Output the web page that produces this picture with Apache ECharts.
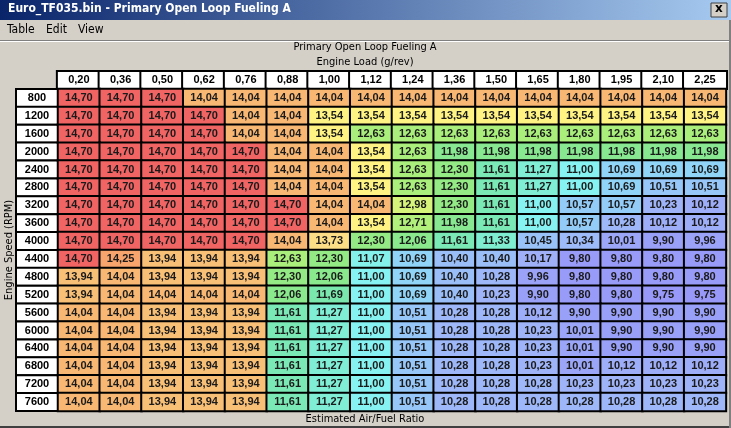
<!DOCTYPE html>
<html>
<head>
<meta charset="utf-8">
<script src="https://cdn.jsdelivr.net/npm/echarts@6/dist/echarts.min.js"></script>
<style>
html,body{margin:0;padding:0;background:#d4d0c8;}
#main{width:731px;height:428px;}
</style>
</head>
<body>
<div id="main"></div>
<script>
// engine load columns (g/rev) and engine speed rows (RPM)
var loadCols = ['0,20','0,36','0,50','0,62','0,76','0,88','1,00','1,12','1,24','1,36','1,50','1,65','1,80','1,95','2,10','2,25'];
var rpmRows = ['800','1200','1600','2000','2400','2800','3200','3600','4000','4400','4800','5200','5600','6000','6400','6800','7200','7600'];

// estimated air/fuel ratio, one row per rpm
var afr = [
	[14.70,14.70,14.70,14.04,14.04,14.04,14.04,14.04,14.04,14.04,14.04,14.04,14.04,14.04,14.04,14.04],
	[14.70,14.70,14.70,14.70,14.04,14.04,13.54,13.54,13.54,13.54,13.54,13.54,13.54,13.54,13.54,13.54],
	[14.70,14.70,14.70,14.70,14.04,14.04,13.54,12.63,12.63,12.63,12.63,12.63,12.63,12.63,12.63,12.63],
	[14.70,14.70,14.70,14.70,14.70,14.04,14.04,13.54,12.63,11.98,11.98,11.98,11.98,11.98,11.98,11.98],
	[14.70,14.70,14.70,14.70,14.70,14.04,14.04,13.54,12.63,12.30,11.61,11.27,11.00,10.69,10.69,10.69],
	[14.70,14.70,14.70,14.70,14.70,14.04,14.04,13.54,12.63,12.30,11.61,11.27,11.00,10.69,10.51,10.51],
	[14.70,14.70,14.70,14.70,14.70,14.70,14.04,14.04,12.98,12.30,11.61,11.00,10.57,10.57,10.23,10.12],
	[14.70,14.70,14.70,14.70,14.70,14.70,14.04,13.54,12.71,11.98,11.61,11.00,10.57,10.28,10.12,10.12],
	[14.70,14.70,14.70,14.70,14.70,14.04,13.73,12.30,12.06,11.61,11.33,10.45,10.34,10.01,9.90,9.96],
	[14.70,14.25,13.94,13.94,13.94,12.63,12.30,11.07,10.69,10.40,10.40,10.17,9.80,9.80,9.80,9.80],
	[13.94,14.04,13.94,13.94,13.94,12.30,12.06,11.00,10.69,10.40,10.28,9.96,9.80,9.80,9.80,9.80],
	[13.94,14.04,14.04,14.04,14.04,12.06,11.69,11.00,10.69,10.40,10.23,9.90,9.80,9.80,9.75,9.75],
	[14.04,14.04,13.94,13.94,13.94,11.61,11.27,11.00,10.51,10.28,10.28,10.12,9.90,9.90,9.90,9.90],
	[14.04,14.04,13.94,13.94,13.94,11.61,11.27,11.00,10.51,10.28,10.28,10.23,10.01,9.90,9.90,9.90],
	[14.04,14.04,13.94,13.94,13.94,11.61,11.27,11.00,10.51,10.28,10.28,10.23,10.01,9.90,9.90,9.90],
	[14.04,14.04,13.94,13.94,13.94,11.61,11.27,11.00,10.51,10.28,10.28,10.23,10.01,10.12,10.12,10.12],
	[14.04,14.04,13.94,13.94,13.94,11.61,11.27,11.00,10.51,10.28,10.28,10.28,10.23,10.23,10.23,10.23],
	[14.04,14.04,13.94,13.94,13.94,11.61,11.27,11.00,10.51,10.28,10.28,10.28,10.28,10.28,10.28,10.28]
];

// colour ramp from 9.70 to 14.70, evenly spaced every 0.25
var ramp = ['#9696f8','#9aa2f8','#a0b2f8','#98c2f8','#90d6f8','#88f4f8','#80f0dc','#7ceac4','#7ae8ac','#86e892','#8ee886',
	'#9cec80','#b0f07a','#d4f47a','#eef87c','#fffc80','#fce288','#f8be76','#f8ac6e','#f48868','#f06464'];

var cells = [];
for(var r=0;r<afr.length;r++){
	for(var c=0;c<afr[r].length;c++){
		cells.push([c,r,afr[r][c]]);
	}
}

var font = 'Liberation Sans';
var uiFont = '"DejaVu Sans Condensed", "Liberation Sans"';
var myChart = echarts.init(document.getElementById('main'));
var option = {
	backgroundColor:'#d4d0c8',
	animation:false,
	grid:{left:58,right:4,top:89,bottom:17},
	xAxis:{
		type:'category',position:'top',data:loadCols,
		axisLine:{show:false},axisTick:{show:false},splitLine:{show:false},
		axisLabel:{
			interval:0,margin:1,color:'#000',fontFamily:font,fontSize:11,fontWeight:'bold',
			backgroundColor:'#fff',borderColor:'#000',borderWidth:2,
			width:42,height:16,lineHeight:16,align:'center',padding:0
		}
	},
	yAxis:{
		type:'category',inverse:true,data:rpmRows,
		axisLine:{show:false},axisTick:{show:false},splitLine:{show:false},
		axisLabel:{
			interval:0,margin:1,align:'right',
			backgroundColor:'#fff',borderColor:'#000',borderWidth:2,padding:0,
			formatter:function(v){return '{a|'+v+'}';},
			rich:{a:{width:40,height:16,lineHeight:16,align:'center',color:'#000',fontFamily:font,fontSize:11,fontWeight:'bold'}}
		}
	},
	visualMap:{
		show:false,type:'continuous',min:9.70,max:14.70,dimension:2,
		inRange:{color:ramp}
	},
	series:[{
		type:'heatmap',
		data:cells,
		itemStyle:{borderColor:'#000',borderWidth:2},
		label:{
			show:true,color:'#1a1a1a',fontFamily:font,fontSize:11,fontWeight:'bold',
			formatter:function(p){return p.value[2].toFixed(2).replace('.',',');}
		},
		emphasis:{disabled:true}
	}],
	graphic:[
		//title bar
		{type:'rect',shape:{x:0,y:0,width:731,height:20},
			style:{fill:new echarts.graphic.LinearGradient(0,0,1,0,[{offset:0,color:'#0a246a'},{offset:1,color:'#a6caf0'}])}},
		{type:'text',left:8,top:3,style:{text:'Euro_TF035.bin - Primary Open Loop Fueling A',fill:'#fff',font:'bold 12px '+uiFont}},
		{type:'rect',shape:{x:711,y:3,width:16,height:14},style:{fill:'#d4d0c8',stroke:'#404040',lineWidth:1}},
		{type:'text',left:715,top:3,style:{text:'x',fill:'#000',font:'bold 12px "DejaVu Sans"'}},
		//menu
		{type:'text',left:7,top:24,style:{text:'Table',fill:'#000',font:'12px '+uiFont}},
		{type:'text',left:46,top:24,style:{text:'Edit',fill:'#000',font:'12px '+uiFont}},
		{type:'text',left:78,top:24,style:{text:'View',fill:'#000',font:'12px '+uiFont}},
		{type:'rect',shape:{x:0,y:40,width:731,height:1},style:{fill:'#808080'}},
		{type:'rect',shape:{x:0,y:41,width:731,height:1},style:{fill:'#ffffff'}},
		//titles
		{type:'text',x:365,y:47,style:{text:'Primary Open Loop Fueling A',fill:'#000',align:'center',verticalAlign:'middle',font:'11px '+uiFont}},
		{type:'text',x:365,y:62,style:{text:'Engine Load (g/rev)',fill:'#000',align:'center',verticalAlign:'middle',font:'11px '+uiFont}},
		{type:'text',x:365,y:419,style:{text:'Estimated Air/Fuel Ratio',fill:'#000',align:'center',verticalAlign:'middle',font:'11px '+uiFont}},
		{type:'text',x:9,y:250,rotation:Math.PI/2,style:{text:'Engine Speed (RPM)',fill:'#000',align:'center',verticalAlign:'middle',font:'11px '+uiFont}},
		//frame
		{type:'rect',shape:{x:0,y:426,width:731,height:2},style:{fill:'#404040'}},
		{type:'rect',shape:{x:729,y:20,width:2,height:408},style:{fill:'#808080'}}
	]
};
myChart.setOption(option);
</script>
</body>
</html>
